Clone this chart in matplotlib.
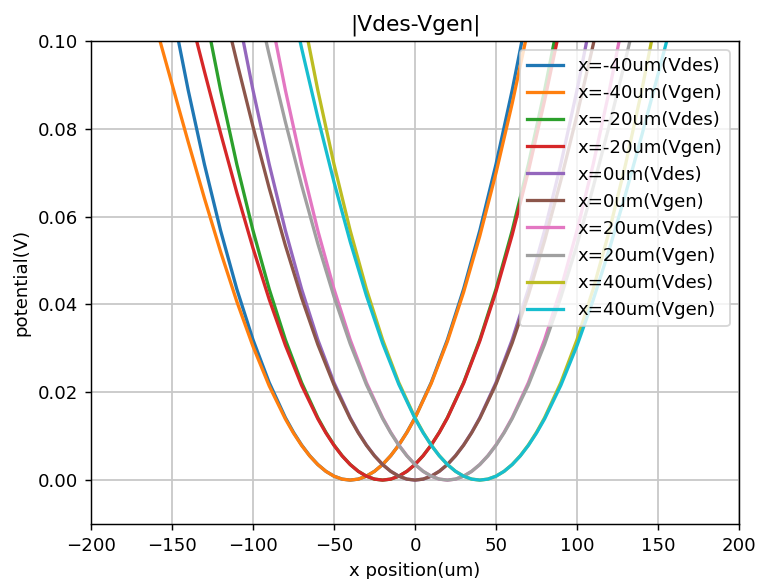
import matplotlib
matplotlib.use("Agg")
import matplotlib.pyplot as plt
import numpy as np

# electrode target positions (um)
centers = [-40, -20, 0, 20, 40]

# sample offsets from each target position (um)
offset_um = [-120, -110, -100, -90, -80, -70, -60, -50, -40, -35, -30, -25, -20, -15, -10, -5, 0,
             5, 10, 15, 20, 25, 30, 35, 40, 50, 60, 70, 80, 90, 100, 110, 120]

# desired potential, same shape for every position (V)
vdes = [0.12787, 0.10745, 0.08880, 0.07193, 0.05683, 0.04351, 0.03197, 0.02220, 0.01421, 0.01088,
        0.00799, 0.00555, 0.00355, 0.00200, 0.00089, 0.00022, 0.0,
        0.00022, 0.00089, 0.00200, 0.00355, 0.00555, 0.00799, 0.01088, 0.01421, 0.02220, 0.03197,
        0.04351, 0.05683, 0.07193, 0.08880, 0.10745, 0.12787]

# generated potentials (V)
vgen_m40 = [0.10344, 0.09020, 0.07702, 0.06420, 0.05201, 0.04068, 0.03044, 0.02146, 0.01391, 0.01070,
            0.00790, 0.00550, 0.00353, 0.00199, 0.00089, 0.00022, 0.0,
            0.00022, 0.00089, 0.00200, 0.00355, 0.00554, 0.00797, 0.01083, 0.01413, 0.02201, 0.03158,
            0.04279, 0.05560, 0.06995, 0.08578, 0.10303, 0.12161]
vgen_m20 = [0.10754, 0.09310, 0.07900, 0.06550, 0.05282, 0.04116, 0.03070, 0.02159, 0.01396, 0.01073,
            0.00791, 0.00551, 0.00354, 0.00199, 0.00089, 0.00022, 0.0,
            0.00022, 0.00089, 0.00200, 0.00355, 0.00554, 0.00797, 0.01084, 0.01415, 0.02205, 0.03166,
            0.04295, 0.05586, 0.07038, 0.08644, 0.10399, 0.12297]
vgen_0 = [0.11065, 0.09529, 0.08050, 0.06648, 0.05343, 0.04152, 0.03089, 0.02168, 0.01400, 0.01075,
          0.00792, 0.00552, 0.00354, 0.00200, 0.00089, 0.00022, 0.0,
          0.00022, 0.00089, 0.00200, 0.00354, 0.00553, 0.00795, 0.01079, 0.01406, 0.02185, 0.03124,
          0.04216, 0.05452, 0.06822, 0.08315, 0.09918, 0.11616]
vgen_p20 = [0.11285, 0.09684, 0.08155, 0.06717, 0.05386, 0.04177, 0.03103, 0.02175, 0.01402, 0.01077,
            0.00793, 0.00552, 0.00354, 0.00200, 0.00089, 0.00022, 0.0,
            0.00022, 0.00089, 0.00200, 0.00354, 0.00552, 0.00793, 0.01076, 0.01401, 0.02170, 0.03094,
            0.04161, 0.05358, 0.06673, 0.08087, 0.09584, 0.11143]
vgen_p40 = [0.11502, 0.09837, 0.08260, 0.06786, 0.05429, 0.04202, 0.03116, 0.02181, 0.01405, 0.01079,
            0.00794, 0.00553, 0.00354, 0.00200, 0.00089, 0.00022, 0.0,
            0.00022, 0.00089, 0.00200, 0.00354, 0.00551, 0.00791, 0.01072, 0.01394, 0.02156, 0.03063,
            0.04104, 0.05262, 0.06518, 0.07851, 0.09238, 0.10653]
vgen = [vgen_m40, vgen_m20, vgen_0, vgen_p20, vgen_p40]

colors = ["#1f77b4", "#ff7f0e", "#2ca02c", "#d62728", "#9467bd",
          "#8c564b", "#e377c2", "#a0a0a0", "#bcbd22", "#17becf"]

dpi = 130.7
fig = plt.figure(figsize=(757 / dpi, 579 / dpi), dpi=dpi)
ax = fig.add_axes([91 / 757, 55 / 579, 648 / 757, 483 / 579])

off = np.array(offset_um)
for i, (c, vg) in enumerate(zip(centers, vgen)):
    ax.plot(off + c, vdes, lw=1.8, color=colors[2 * i], label=f"x={c}um(Vdes)")
    ax.plot(off + c, vg, lw=1.8, color=colors[2 * i + 1], label=f"x={c}um(Vgen)")

ax.set_xlim(-200, 200)
ax.set_ylim(-0.01, 0.1)
ax.set_xticks(np.arange(-200, 201, 50))
ax.set_yticks([0.0, 0.02, 0.04, 0.06, 0.08, 0.10])
ax.set_yticklabels(["0.00", "0.02", "0.04", "0.06", "0.08", "0.10"])
ax.grid(True, color="#c8c8c8", lw=1.0)
ax.set_title("|Vdes-Vgen|")
ax.set_xlabel("x position(um)")
ax.set_ylabel("potential(V)")
ax.legend(loc="upper right")

fig.savefig("out.png", dpi=dpi)
